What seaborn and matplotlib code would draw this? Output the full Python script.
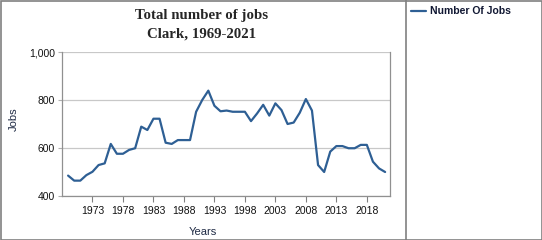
import matplotlib
matplotlib.use("Agg")
import matplotlib.pyplot as plt
from matplotlib.lines import Line2D
from matplotlib.patches import Rectangle
import seaborn as sns
import pandas as pd

years = list(range(1969, 2022))
jobs = [485, 464, 464, 487, 501, 529, 536, 617, 576, 576,
        592, 599, 689, 675, 722, 722, 622, 617, 633, 633,
        633, 751, 800, 839, 776, 753, 756, 751, 751, 751,
        712, 744, 780, 735, 786, 758, 700, 706, 747, 804,
        756, 529, 500, 585, 608, 608, 599, 599, 613, 613,
        543, 515, 500]
xticks = [1973, 1978, 1983, 1988, 1993, 1998, 2003, 2008, 2013, 2018]
yticks = [400, 600, 800, 1000]
ytick_labels = ["400", "600", "800", "1,000"]

df = pd.DataFrame({"Years": years, "Jobs": jobs})

sns.set_theme(style="white")
plt.rcParams["font.family"] = ["Liberation Sans", "DejaVu Sans"]

fig = plt.figure(figsize=(5.42, 2.4), dpi=100)
ax = fig.add_axes([62 / 542, 44 / 240, (390 - 62) / 542, (196 - 52) / 240])

line_color = "#2e5f94"
sns.lineplot(data=df, x="Years", y="Jobs", ax=ax, color=line_color,
             linewidth=1.6, label="Number Of Jobs", legend=False)

ax.set_xlim(1968.0, 2021.8)
ax.set_ylim(400, 1000)
ax.set_xticks(xticks)
ax.set_xticklabels([str(t) for t in xticks], fontsize=7.5, color="#111111")
ax.set_yticks(yticks)
ax.set_yticklabels(ytick_labels, fontsize=7.5, color="#111111")
ax.yaxis.grid(True, color="#c8c8c8", linewidth=0.9)
ax.xaxis.grid(False)
ax.tick_params(axis="x", which="both", bottom=True, length=4, width=0.8,
               color="#808080", pad=3)
ax.tick_params(axis="y", which="both", left=True, length=3, width=0.8,
               color="#b0b0b0", pad=2)
for side in ["left", "bottom", "right"]:
    ax.spines[side].set_color("#909090")
    ax.spines[side].set_linewidth(0.9)
ax.spines["top"].set_visible(False)

ax.set_xlabel("Years", fontsize=8, color="#1f2a44")
ax.xaxis.set_label_coords(0.43, -0.215)
ax.set_ylabel("Jobs", fontsize=8, color="#1f2a44")
ax.yaxis.set_label_coords(-0.133, 0.53)

fig.text(202 / 542, 1 - 15 / 240, "Total number of jobs", ha="center", va="center",
         fontsize=10.7, fontweight="bold", family=["Liberation Serif", "DejaVu Serif"])
fig.text(202 / 542, 1 - 34 / 240, "Clark, 1969-2021", ha="center", va="center",
         fontsize=10.7, fontweight="bold", family=["Liberation Serif", "DejaVu Serif"])

# legend in right panel
handle = Line2D([0], [0], color=line_color, linewidth=1.6)
fig.legend([handle], ["Number Of Jobs"], loc="upper left",
           bbox_to_anchor=(405 / 542, 1.0), frameon=False,
           prop={"size": 7.5, "weight": "bold"}, handlelength=1.4,
           handletextpad=0.4, borderaxespad=0.2, labelcolor="#111833")

# outer border and divider
fig.add_artist(Rectangle((0.5 / 542, 0.5 / 240), 541 / 542, 239 / 240,
                         transform=fig.transFigure, fill=False,
                         edgecolor="#808080", linewidth=1.2))
fig.add_artist(Line2D([405.5 / 542, 405.5 / 542], [0, 1],
                      transform=fig.transFigure, color="#808080", linewidth=1.2))

fig.savefig("out.png", dpi=100)
